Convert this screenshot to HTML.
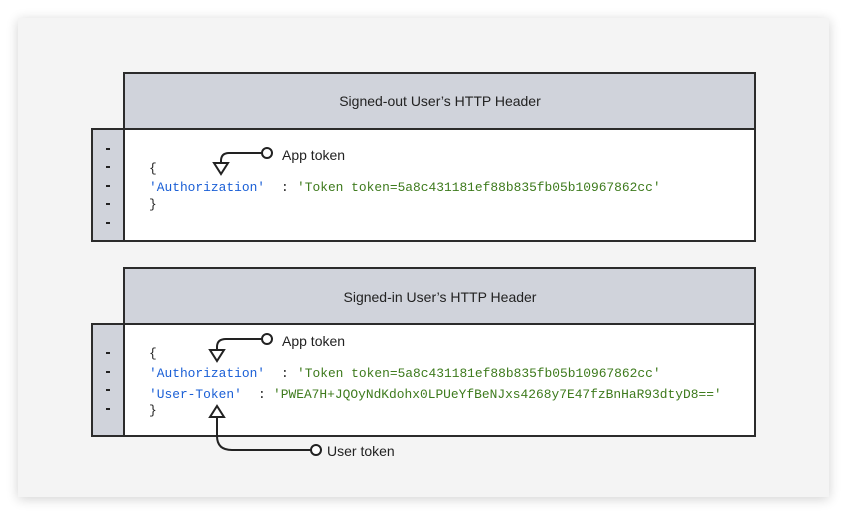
<!DOCTYPE html>
<html><head><meta charset="utf-8"><style>
html,body{margin:0;padding:0;background:#fff;}
svg{display:block}
.m{font-family:"Liberation Mono",monospace;font-size:12.9px}
.s{font-family:"Liberation Sans",sans-serif}
</style></head><body>
<svg width="847" height="515" viewBox="0 0 847 515">
<defs><filter id="sh" x="-5%" y="-5%" width="110%" height="110%"><feGaussianBlur stdDeviation="6"/></filter></defs>
<rect x="18" y="20" width="811" height="479" fill="#000" opacity="0.18" filter="url(#sh)"/>
<rect x="18" y="18" width="811" height="479" fill="#f4f4f4"/>

<!-- box 1 -->
<rect x="124" y="73" width="631" height="56" fill="#d0d3db" stroke="#2b2b2b" stroke-width="2"/>
<rect x="92" y="129" width="32" height="112" fill="#d0d3db" stroke="#2b2b2b" stroke-width="2"/>
<rect x="124" y="129" width="631" height="112" fill="#fff" stroke="#2b2b2b" stroke-width="2"/>
<text x="440" y="106" text-anchor="middle" class="s" font-size="14" fill="#222">Signed-out User’s HTTP Header</text>
<g fill="#222"><rect x="106" y="148" width="4" height="2"/><rect x="106" y="166" width="4" height="2"/><rect x="106" y="185" width="4" height="2"/><rect x="106" y="203" width="4" height="2"/><rect x="106" y="222" width="4" height="2"/></g>
<text x="149" y="172" class="m" fill="#222">{</text>
<text x="149" y="191" class="m" fill="#1a5fd6">'Authorization'</text>
<text x="281" y="191" class="m" fill="#222">:</text>
<text x="297" y="191" class="m" fill="#3d7a1c">'Token token=5a8c431181ef88b835fb05b10967862cc'</text>
<text x="149" y="208" class="m" fill="#222">}</text>
<g stroke="#222" stroke-width="2" fill="none">
<circle cx="267" cy="153" r="5" fill="#fff"/>
<path d="M262 153 H229 Q221 153 221 161 V163"/>
<path d="M214 163 H228 L221 174 Z" fill="#fff"/>
</g>
<text x="282" y="160" class="s" font-size="14" fill="#222">App token</text>

<!-- box 2 -->
<rect x="124" y="268" width="631" height="56" fill="#d0d3db" stroke="#2b2b2b" stroke-width="2"/>
<rect x="92" y="324" width="32" height="112" fill="#d0d3db" stroke="#2b2b2b" stroke-width="2"/>
<rect x="124" y="324" width="631" height="112" fill="#fff" stroke="#2b2b2b" stroke-width="2"/>
<text x="440" y="302" text-anchor="middle" class="s" font-size="14" fill="#222">Signed-in User’s HTTP Header</text>
<g fill="#222"><rect x="106" y="352" width="4" height="2"/><rect x="106" y="371" width="4" height="2"/><rect x="106" y="389" width="4" height="2"/><rect x="106" y="408" width="4" height="2"/></g>
<text x="149" y="357" class="m" fill="#222">{</text>
<text x="149" y="377" class="m" fill="#1a5fd6">'Authorization'</text>
<text x="281" y="377" class="m" fill="#222">:</text>
<text x="297" y="377" class="m" fill="#3d7a1c">'Token token=5a8c431181ef88b835fb05b10967862cc'</text>
<text x="149" y="398" class="m" fill="#1a5fd6">'User-Token'</text>
<text x="258" y="398" class="m" fill="#222">:</text>
<text x="273" y="398" class="m" fill="#3d7a1c">'PWEA7H+JQOyNdKdohx0LPUeYfBeNJxs4268y7E47fzBnHaR93dtyD8=='</text>
<text x="149" y="414" class="m" fill="#222">}</text>
<g stroke="#222" stroke-width="2" fill="none">
<circle cx="267" cy="339" r="5" fill="#fff"/>
<path d="M262 339 H226 Q217 339 217 347 V350"/>
<path d="M210 350 H224 L217 361 Z" fill="#fff"/>
<circle cx="316" cy="450" r="5" fill="#fff"/>
<path d="M311 450 H232 Q217 450 217 436 V417"/>
<path d="M210 417 H224 L217 406 Z" fill="#fff"/>
</g>
<text x="282" y="346" class="s" font-size="14" fill="#222">App token</text>
<text x="327" y="456" class="s" font-size="14" fill="#222">User token</text>
</svg>
</body></html>
